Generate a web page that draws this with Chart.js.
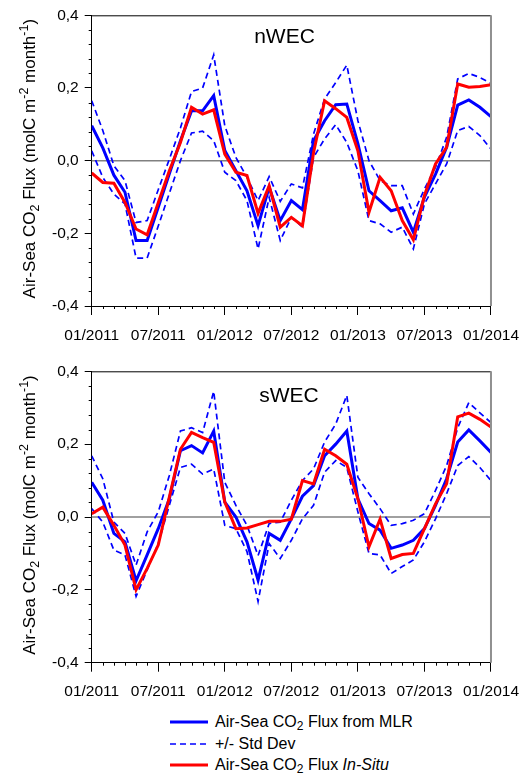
<!DOCTYPE html>
<html>
<head>
<meta charset="utf-8">
<script src="https://cdn.jsdelivr.net/npm/chart.js@4.4.0/dist/chart.umd.min.js"></script>
<style>
html, body { margin: 0; padding: 0; background: #fff; overflow: hidden; }
#wrap { position: relative; width: 523px; height: 773px; font-family: "Liberation Sans", Arial, sans-serif; }
canvas { position: absolute; left: 0; }
#chartN { top: 0; }
#chartS { top: 356px; }
.row { position: absolute; left: 170px; height: 20px; line-height: 20px; font-size: 16px; color: #000; white-space: nowrap; }
.row svg { position: absolute; left: 0; top: 0; }
.row span { position: absolute; left: 45px; top: 0; }
.row sub { font-size: 12px; vertical-align: -3px; line-height: 0; }
</style>
</head>
<body>
<div id="wrap">
  <canvas id="chartN" width="530" height="345"></canvas>
  <canvas id="chartS" width="530" height="345"></canvas>
  <div class="row" style="top:712px">
    <svg width="40" height="20"><line x1="0" y1="10" x2="38" y2="10" stroke="#0000ff" stroke-width="3"/></svg>
    <span>Air-Sea CO<sub>2</sub> Flux from MLR</span>
  </div>
  <div class="row" style="top:734px">
    <svg width="40" height="20"><line x1="0" y1="10" x2="38" y2="10" stroke="#0000ff" stroke-width="1.7" stroke-dasharray="6,4"/></svg>
    <span>+/- Std Dev</span>
  </div>
  <div class="row" style="top:755px">
    <svg width="40" height="20"><line x1="0" y1="10" x2="38" y2="10" stroke="#ff0000" stroke-width="3"/></svg>
    <span>Air-Sea CO<sub>2</sub> Flux <i>In-Situ</i></span>
  </div>
</div>
<script>
// month index 0 = 01/2011 ... 36 = 01/2014
const tickLabels = ['01/2011', '07/2011', '01/2012', '07/2012', '01/2013', '07/2013', '01/2014'];

// nWEC
const mlrN = [0.096, 0.035, -0.04, -0.087, -0.22, -0.22, -0.128, -0.036, 0.055, 0.137, 0.137, 0.179, 0.028,
    -0.028, -0.083, -0.179, -0.073, -0.165, -0.11, -0.135, 0.055, 0.11, 0.154, 0.156, 0.047,
    -0.083, -0.11, -0.138, -0.13, -0.197, -0.1, -0.037, 0.037, 0.153, 0.167, 0.147, 0.121];
const upperN = [0.165, 0.083, -0.014, -0.055, -0.17, -0.165, -0.08, 0.004, 0.09, 0.19, 0.2, 0.291, 0.096,
    0.009, -0.046, -0.11, -0.044, -0.112, -0.064, -0.075, 0.073, 0.17, 0.215, 0.263, 0.11,
    0.0, -0.055, -0.069, -0.069, -0.147, -0.078, -0.018, 0.064, 0.225, 0.24, 0.229, 0.213];
const lowerN = [0.027, -0.046, -0.092, -0.119, -0.268, -0.268, -0.18, -0.09, 0.0, 0.076, 0.081, 0.055, -0.032,
    -0.055, -0.11, -0.243, -0.101, -0.22, -0.156, -0.183, 0.009, 0.06, 0.099, 0.05, -0.028,
    -0.165, -0.174, -0.197, -0.183, -0.243, -0.119, -0.064, -0.009, 0.083, 0.094, 0.069, 0.032];
const insituN = [-0.034, -0.06, -0.062, -0.115, -0.188, -0.204, -0.116, -0.028, 0.05, 0.147, 0.128, 0.14, 0.018,
    -0.032, -0.041, -0.145, -0.069, -0.183, -0.156, -0.179, 0.022, 0.165, 0.143, 0.119, 0.027,
    -0.142, -0.046, -0.083, -0.165, -0.218, -0.096, -0.009, 0.037, 0.211, 0.202, 0.204, 0.209];

// sWEC
const mlrS = [0.095, 0.046, -0.045, -0.068, -0.175, -0.104, -0.032, 0.05, 0.182, 0.196, 0.176, 0.236, 0.041,
    0.0, -0.068, -0.173, -0.045, -0.064, -0.005, 0.057, 0.086, 0.168, 0.2, 0.236, 0.05,
    -0.018, -0.036, -0.086, -0.077, -0.064, -0.032, 0.032, 0.105, 0.206, 0.239, 0.209, 0.177];
const upperS = [0.168, 0.105, -0.014, -0.045, -0.132, -0.041, 0.014, 0.114, 0.236, 0.245, 0.232, 0.345, 0.095,
    0.032, -0.023, -0.106, -0.018, -0.014, 0.046, 0.1, 0.132, 0.206, 0.255, 0.334, 0.109,
    0.064, 0.023, -0.023, -0.018, -0.009, 0.009, 0.073, 0.141, 0.245, 0.314, 0.286, 0.259];
const lowerS = [0.023, -0.014, -0.091, -0.104, -0.218, -0.145, -0.073, 0.032, 0.136, 0.145, 0.118, 0.132, -0.023,
    -0.032, -0.095, -0.232, -0.073, -0.114, -0.064, -0.005, 0.032, 0.123, 0.155, 0.136, 0.014,
    -0.1, -0.104, -0.155, -0.136, -0.118, -0.068, -0.005, 0.064, 0.141, 0.166, 0.136, 0.1];
const insituS = [0.009, 0.027, -0.023, -0.077, -0.2, -0.141, -0.077, 0.055, 0.186, 0.232, 0.218, 0.205, 0.041,
    -0.032, -0.03, -0.021, -0.012, -0.012, -0.006, 0.1, 0.091, 0.186, 0.168, 0.145, 0.05,
    -0.082, -0.006, -0.114, -0.103, -0.1, -0.032, 0.036, 0.091, 0.275, 0.285, 0.268, 0.247];

const BLUE = '#0000ff';
const RED = '#ff0000';
const FONT = '"Liberation Sans", Arial, sans-serif';

function toPoints(arr) {
    return arr.map((v, i) => ({ x: i, y: v }));
}

// zero line, box, minor ticks, panel title and y axis title
const decorPlugin = {
    id: 'decor',
    beforeDatasetsDraw(chart) {
        const ctx = chart.ctx;
        const a = chart.chartArea;
        const y0 = chart.scales.y.getPixelForValue(0);
        ctx.save();
        ctx.strokeStyle = '#808080';
        ctx.lineWidth = 1.5;
        ctx.beginPath();
        ctx.moveTo(a.left, y0);
        ctx.lineTo(a.right, y0);
        ctx.stroke();
        ctx.restore();
    },
    afterDraw(chart, args, opts) {
        const ctx = chart.ctx;
        const a = chart.chartArea;
        const xs = chart.scales.x;
        const ys = chart.scales.y;
        ctx.save();
        // top and right frame
        ctx.strokeStyle = '#000';
        ctx.lineWidth = 1;
        ctx.beginPath();
        ctx.moveTo(a.left, a.top + 0.5);
        ctx.lineTo(a.right, a.top + 0.5);
        ctx.stroke();
        ctx.strokeStyle = '#909090';
        ctx.lineWidth = 2;
        ctx.beginPath();
        ctx.moveTo(a.right, a.top);
        ctx.lineTo(a.right, a.bottom);
        ctx.stroke();

        // minor ticks
        ctx.strokeStyle = '#000';
        ctx.lineWidth = 1;
        ctx.beginPath();
        for (let i = 0; i <= 36; i++) {
            if (i % 6 === 0) continue;
            const px = Math.round(xs.getPixelForValue(i)) + 0.5;
            ctx.moveTo(px, a.bottom);
            ctx.lineTo(px, a.bottom + 3);
        }
        for (let k = 0; k <= 20; k++) {
            if (k % 5 === 0) continue;
            const py = Math.round(ys.getPixelForValue(-0.4 + 0.04 * k)) + 0.5;
            ctx.moveTo(a.left - 3, py);
            ctx.lineTo(a.left, py);
        }
        ctx.stroke();

        // panel title
        ctx.fillStyle = '#000';
        ctx.font = '21px ' + FONT;
        ctx.textAlign = 'center';
        ctx.textBaseline = 'alphabetic';
        ctx.fillText(opts.title, opts.titleX, opts.titleY);

        // y axis title with sub/superscripts
        const parts = [
            ['Air-Sea CO', 0], ['2', 1], [' Flux (molC m', 0], ['-2', -1], [' month', 0], ['-1', -1], [')', 0]
        ];
        const big = '17px ' + FONT;
        const small = '12.5px ' + FONT;
        let total = 0;
        parts.forEach(p => {
            ctx.font = p[1] === 0 ? big : small;
            total += ctx.measureText(p[0]).width;
        });
        ctx.translate(35, (a.top + a.bottom) / 2 - 2);
        ctx.rotate(-Math.PI / 2);
        ctx.textAlign = 'left';
        let cx = -total / 2;
        parts.forEach(p => {
            ctx.font = p[1] === 0 ? big : small;
            const dy = p[1] === 1 ? 4 : (p[1] === -1 ? -7 : 0);
            ctx.fillText(p[0], cx, dy);
            cx += ctx.measureText(p[0]).width;
        });
        ctx.restore();
    }
};

function makeChart(id, mlr, upper, lower, insitu, title, titleX, titleY, xHeight) {
    const ctx = document.getElementById(id).getContext('2d');
    return new Chart(ctx, {
        type: 'line',
        data: {
            datasets: [
                { label: 'In-Situ', data: toPoints(insitu), borderColor: RED, borderWidth: 3 },
                { label: 'MLR', data: toPoints(mlr), borderColor: BLUE, borderWidth: 3 },
                { label: '+Std', data: toPoints(upper), borderColor: BLUE, borderWidth: 1.7, borderDash: [6, 4] },
                { label: '-Std', data: toPoints(lower), borderColor: BLUE, borderWidth: 1.7, borderDash: [6, 4] }
            ]
        },
        options: {
            responsive: false,
            animation: false,
            devicePixelRatio: 1,
            elements: {
                point: { radius: 0 },
                line: { tension: 0, fill: false, borderJoinStyle: 'miter' }
            },
            layout: { padding: { top: 14.7, right: 32.6, left: 0, bottom: 0 } },
            plugins: {
                legend: { display: false },
                tooltip: { enabled: false },
                decor: { title: title, titleX: titleX, titleY: titleY }
            },
            scales: {
                x: {
                    type: 'linear',
                    min: 0,
                    max: 36,
                    afterFit(scale) { scale.height = xHeight; },
                    ticks: {
                        stepSize: 6,
                        autoSkip: false,
                        maxRotation: 0,
                        padding: 11,
                        color: '#000',
                        font: { family: FONT, size: 15.5 },
                        callback: (v) => tickLabels[v / 6]
                    },
                    grid: { drawOnChartArea: false, tickLength: 9, color: '#000', tickColor: '#000' },
                    border: { display: true, color: '#000', width: 1 }
                },
                y: {
                    min: -0.4,
                    max: 0.4,
                    afterFit(scale) { scale.width = 91.7; },
                    ticks: {
                        stepSize: 0.2,
                        padding: 6,
                        color: '#000',
                        font: { family: FONT, size: 15.5 },
                        callback: (v) => (Math.abs(v) < 1e-9 ? 0 : v).toFixed(1).replace('.', ',')
                    },
                    grid: { drawOnChartArea: false, tickLength: 7, color: '#000', tickColor: '#000' },
                    border: { display: true, color: '#000', width: 1 }
                }
            }
        },
        plugins: [decorPlugin]
    });
}

makeChart('chartN', mlrN, upperN, lowerN, insituN, 'nWEC', 284.5, 43, 39);
makeChart('chartS', mlrS, upperS, lowerS, insituS, 'sWEC', 289, 46, 38.3);
</script>
</body>
</html>
